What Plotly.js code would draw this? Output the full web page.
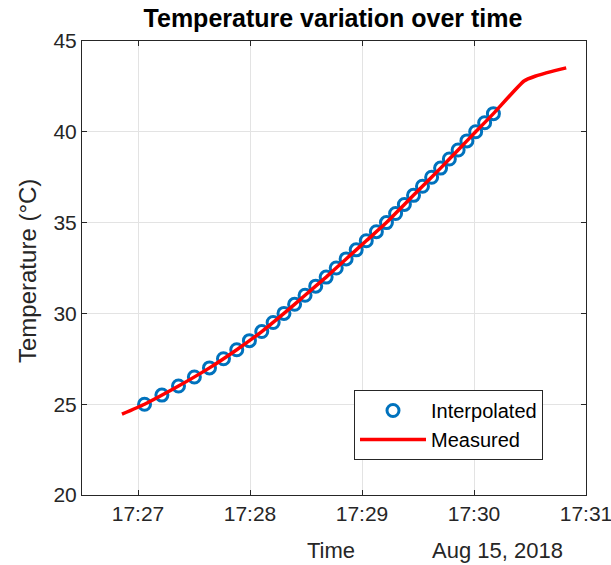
<!DOCTYPE html>
<html>
<head>
<meta charset="utf-8">
<script src="https://cdn.plot.ly/plotly-3.0.1.min.js"></script>
<style>html,body{margin:0;padding:0;background:#fff;}#chart{width:611px;height:565px;}</style>
</head>
<body>
<div id="chart"></div>
<script>
// Interpolated points (temperature steps of 0.5 °C)
var interpTimes = [
  "2018-08-15 17:27:03.5","2018-08-15 17:27:12.8","2018-08-15 17:27:21.7","2018-08-15 17:27:30.2",
  "2018-08-15 17:27:38.3","2018-08-15 17:27:45.8","2018-08-15 17:27:52.9","2018-08-15 17:27:59.7",
  "2018-08-15 17:28:06.3","2018-08-15 17:28:12.4","2018-08-15 17:28:18.2","2018-08-15 17:28:23.9",
  "2018-08-15 17:28:29.5","2018-08-15 17:28:35.2","2018-08-15 17:28:40.8","2018-08-15 17:28:46.2",
  "2018-08-15 17:28:51.5","2018-08-15 17:28:56.9","2018-08-15 17:29:02.3","2018-08-15 17:29:07.7",
  "2018-08-15 17:29:13.1","2018-08-15 17:29:18.0","2018-08-15 17:29:22.7","2018-08-15 17:29:27.6",
  "2018-08-15 17:29:32.4","2018-08-15 17:29:37.3","2018-08-15 17:29:42.1","2018-08-15 17:29:46.8",
  "2018-08-15 17:29:51.5","2018-08-15 17:29:56.2","2018-08-15 17:30:00.9","2018-08-15 17:30:05.7",
  "2018-08-15 17:30:10.4"
];
var interpTemps = [25,25.5,26,26.5,27,27.5,28,28.5,29,29.5,30,30.5,31,31.5,32,32.5,33,33.5,
  34,34.5,35,35.5,36,36.5,37,37.5,38,38.5,39,39.5,40,40.5,41];

// Measured series
var measTimes = [
  "2018-08-15 17:26:51.4","2018-08-15 17:27:03.5","2018-08-15 17:27:21.7","2018-08-15 17:27:38.3",
  "2018-08-15 17:27:52.9","2018-08-15 17:28:06.3","2018-08-15 17:28:18.2","2018-08-15 17:28:29.5",
  "2018-08-15 17:28:40.8","2018-08-15 17:28:51.5","2018-08-15 17:29:02.3","2018-08-15 17:29:13.1",
  "2018-08-15 17:29:22.7","2018-08-15 17:29:32.4","2018-08-15 17:29:42.1","2018-08-15 17:29:51.5",
  "2018-08-15 17:30:00.9","2018-08-15 17:30:10.4","2018-08-15 17:30:26.8","2018-08-15 17:30:32.7",
  "2018-08-15 17:30:41.8","2018-08-15 17:30:49.4"
];
var measTemps = [24.45,25,26,27,28,29,30,31,32,33,34,35,36,37,38,39,40,41,42.8,43.06,43.33,43.52];

var xTickVals = ["2018-08-15 17:27","2018-08-15 17:28","2018-08-15 17:29","2018-08-15 17:30","2018-08-15 17:31"];
var xTickText = ["17:27","17:28","17:29","17:30","17:31"];
var yTickVals = [20,25,30,35,40,45];

var font = "Liberation Sans, Arial, Helvetica, sans-serif";
var axColor = "#262626";

var traces = [
  {
    x: interpTimes, y: interpTemps, type: "scatter", mode: "markers", name: "Interpolated",
    marker: {symbol: "circle-open", size: 12, color: "#0072BD", line: {width: 3, color: "#0072BD"}}
  },
  {
    x: measTimes, y: measTemps, type: "scatter", mode: "lines", name: "Measured",
    line: {color: "#FF0000", width: 3.5, shape: "spline", smoothing: 0.5}
  }
];

var layout = {
  width: 611, height: 565,
  margin: {l: 82, r: 25, t: 41, b: 70},
  paper_bgcolor: "#fff", plot_bgcolor: "#fff",
  font: {family: font, size: 20, color: axColor},
  title: {text: "<b>Temperature variation over time</b>", font: {family: font, size: 25, color: "#000"},
          x: 0.545, xanchor: "center", y: 0.968, yanchor: "middle"},
  showlegend: true,
  legend: {x: (354-82)/504, y: (495-390)/454, xanchor: "left", yanchor: "top",
           bgcolor: "#fff", bordercolor: axColor, borderwidth: 1, itemwidth: 66,
           font: {family: font, size: 20, color: "#000"}, tracegroupgap: 0},
  xaxis: {
    type: "date",
    range: ["2018-08-15 17:26:30", "2018-08-15 17:31:00"],
    tickmode: "array", tickvals: xTickVals, ticktext: xTickText,
    ticks: "inside", ticklen: 5, tickcolor: axColor, ticklabeloverflow: "allow",
    showline: true, linecolor: axColor, linewidth: 1, mirror: "ticks",
    showgrid: true, gridcolor: "#e3e3e3", gridwidth: 1,
    zeroline: false, tickfont: {family: font, size: 21, color: axColor}
  },
  yaxis: {
    range: [20, 45],
    tickmode: "array", tickvals: yTickVals,
    ticks: "inside", ticklen: 5, tickcolor: axColor,
    showline: true, linecolor: axColor, linewidth: 1, mirror: "ticks",
    showgrid: true, gridcolor: "#e3e3e3", gridwidth: 1,
    zeroline: false, tickfont: {family: font, size: 21, color: axColor}
  },
  annotations: [
    {text: "Temperature (°C)", xref: "paper", yref: "paper", x: (27-82)/504, y: (495-271)/454,
     xanchor: "center", yanchor: "middle", textangle: -90, showarrow: false,
     font: {family: font, size: 24, color: axColor}},
    {text: "Time", xref: "paper", yref: "paper", x: (331-82)/504, y: (495-550)/454,
     xanchor: "center", yanchor: "middle", showarrow: false, font: {family: font, size: 22, color: axColor}},
    {text: "Aug 15, 2018", xref: "paper", yref: "paper", x: (497-82)/504, y: (495-550)/454,
     xanchor: "center", yanchor: "middle", showarrow: false, font: {family: font, size: 22, color: axColor}}
  ]
};

Plotly.newPlot("chart", traces, layout, {staticPlot: true, displayModeBar: false});
</script>
</body>
</html>
